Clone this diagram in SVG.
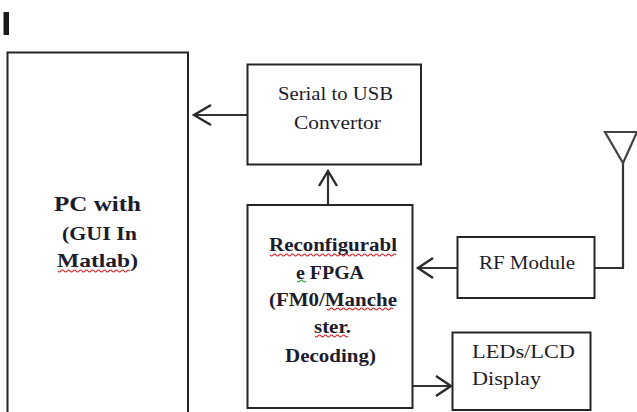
<svg xmlns="http://www.w3.org/2000/svg" width="637" height="412" viewBox="0 0 637 412">
<defs>
<style>
.box{fill:#fff;stroke:#262626;stroke-width:2}
.line{fill:none;stroke:#333;stroke-width:2.2}
.head{fill:none;stroke:#2a2a2a;stroke-width:2.4}
.t{font-family:"Liberation Serif","Times New Roman",serif;font-size:18.500px;fill:#1c1c2c}
.b{font-weight:bold}
.sq{fill:none;stroke:#d8202a;stroke-width:1.2}
</style>
</defs>
<rect width="637" height="412" fill="#fff"/>
<rect id="mark" x="3.500" y="12" width="5.500" height="23" fill="#1a1a1a"/>
<g id="connectors">
<path class="line" d="M247 115H194"/>
<path class="head" d="M211 105L194 115L211 125"/>
<path class="line" d="M328 208V171"/>
<path class="head" d="M319 186L328 171L337 186"/>
<path class="line" d="M457 268H418"/>
<path class="head" d="M433 258L418 268L433 278"/>
<path class="line" d="M412 386H450"/>
<path class="head" d="M436 376L451 386L436 396"/>
<path class="line" d="M594 268H623V163"/>
</g>
<g id="pc">
<rect class="box" x="7.500" y="52.500" width="180.500" height="375"/>
<text class="t b" x="54" y="211" style="font-size:22px" textLength="87" lengthAdjust="spacingAndGlyphs">PC with</text>
<text class="t b" x="62" y="240" textLength="75" lengthAdjust="spacingAndGlyphs">(GUI In</text>
<text class="t b" x="57" y="267" textLength="81" lengthAdjust="spacingAndGlyphs">Matlab)</text>
<path class="sq" d="M58 271q1.500 2 3 0t3 0t3 0t3 0t3 0t3 0t3 0t3 0t3 0t3 0t3 0t3 0t3 0t3 0t3 0t3 0t3 0t3 0t3 0t3 0t3 0t3 0t3 0t3 0"/>
</g>
<g id="serial">
<rect class="box" x="247.500" y="64.500" width="173.500" height="100"/>
<text class="t" x="278" y="100" textLength="115" lengthAdjust="spacingAndGlyphs">Serial to USB</text>
<text class="t" x="294" y="129" textLength="87" lengthAdjust="spacingAndGlyphs">Convertor</text>
</g>
<g id="fpga">
<rect class="box" x="247.500" y="205" width="165" height="203"/>
<text class="t b" x="269" y="251" textLength="128" lengthAdjust="spacingAndGlyphs">Reconfigurabl</text>
<text class="t b" x="296" y="279" textLength="68" lengthAdjust="spacingAndGlyphs">e FPGA</text>
<text class="t b" x="269" y="306" textLength="128" lengthAdjust="spacingAndGlyphs">(FM0/Manche</text>
<text class="t b" x="314" y="333" textLength="37" lengthAdjust="spacingAndGlyphs">ster.</text>
<text class="t b" x="285" y="362" textLength="91" lengthAdjust="spacingAndGlyphs">Decoding)</text>
<path class="sq" d="M270 255q1.500 2 3 0t3 0t3 0t3 0t3 0t3 0t3 0t3 0t3 0t3 0t3 0t3 0t3 0t3 0t3 0t3 0t3 0t3 0t3 0t3 0t3 0t3 0t3 0t3 0t3 0t3 0t3 0t3 0t3 0t3 0t3 0t3 0t3 0t3 0t3 0t3 0t3 0t3 0t3 0t3 0t3 0t3 0"/>
<path class="sq" d="M327 309q1.500 2 3 0t3 0t3 0t3 0t3 0t3 0t3 0t3 0t3 0t3 0t3 0t3 0t3 0t3 0t3 0t3 0t3 0t3 0t3 0t3 0t3 0t3 0"/>
<path class="sq" d="M315 336q1.500 2 3 0t3 0t3 0t3 0t3 0t3 0t3 0t3 0t3 0t3 0t3 0"/>
<path d="M297 281q1.500 2 3 0t3 0t3 0" fill="none" stroke="#2a9a3a" stroke-width="1.200"/>
</g>
<g id="rf">
<rect class="box" x="457.500" y="237" width="137" height="61"/>
<text class="t" x="479" y="269" textLength="96" lengthAdjust="spacingAndGlyphs">RF Module</text>
</g>
<g id="leds">
<rect class="box" x="452.500" y="332.500" width="138" height="77.500"/>
<text class="t" x="472" y="358" textLength="103" lengthAdjust="spacingAndGlyphs">LEDs/LCD</text>
<text class="t" x="472" y="385" textLength="69" lengthAdjust="spacingAndGlyphs">Display</text>
</g>
<g id="antenna">
<path class="line" d="M605 132H637L623 163Z" style="stroke:#444"/>
</g>
</svg>
